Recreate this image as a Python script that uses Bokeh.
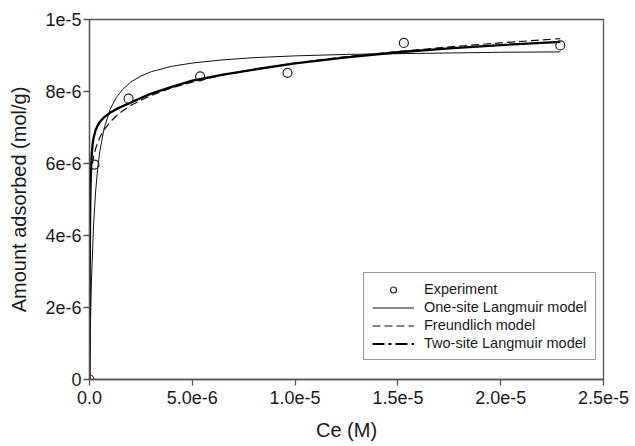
from bokeh.plotting import figure
from bokeh.models import FixedTicker, Legend, LegendItem, Range1d
from bokeh.embed import file_html
from bokeh.resources import INLINE

# values are given in micro-units (1e-6) and converted to M / mol/g below
MICRO = 1e-6

exp_ce = [0.0, 0.24, 1.9, 5.38, 9.63, 15.29, 22.9]
exp_q = [0.0, 5.97, 7.8, 8.42, 8.52, 9.35, 9.28]

one_site_ce = [0.0, 0.02, 0.05, 0.1, 0.2, 0.3, 0.4, 0.5, 0.7, 1.0, 1.3, 1.6, 2.0,
               2.5, 3.0, 4.0, 5.0, 6.5, 8.0, 10.0, 12.5, 15.0, 17.5, 20.0, 22.9]
one_site_q = [0.0, 0.75, 1.67, 2.82, 4.32, 5.24, 5.88, 6.33, 6.95, 7.50, 7.83, 8.05, 8.26,
              8.43, 8.55, 8.70, 8.79, 8.88, 8.94, 8.99, 9.03, 9.05, 9.07, 9.09, 9.10]

freundlich_ce = [0.0, 0.000001, 0.0001, 0.001, 0.01, 0.02, 0.05, 0.1, 0.2, 0.3, 0.5, 0.7,
                 1.0, 1.3, 1.6, 2.0, 2.5, 3.0, 4.0, 5.0, 6.5, 8.0, 10.0, 12.5, 15.0,
                 17.5, 20.0, 22.9]
freundlich_q = [0.0, 2.07, 3.13, 3.85, 4.73, 5.04, 5.47, 5.82, 6.19, 6.42, 6.72, 6.93,
                7.15, 7.32, 7.46, 7.61, 7.76, 7.89, 8.10, 8.26, 8.46, 8.61, 8.79, 8.97,
                9.11, 9.24, 9.35, 9.47]

two_site_ce = [0.0, 0.005, 0.01, 0.02, 0.03, 0.05, 0.07, 0.1, 0.15, 0.2, 0.3, 0.4, 0.5,
               0.7, 1.0, 1.3, 1.6, 2.0, 2.5, 3.0, 4.0, 5.0, 6.5, 8.0, 10.0, 12.5, 15.0,
               17.5, 20.0, 22.9]
two_site_q = [0.0, 1.59, 2.61, 3.84, 4.55, 5.36, 5.80, 6.18, 6.53, 6.72, 6.93, 7.06, 7.15,
              7.28, 7.41, 7.51, 7.59, 7.69, 7.82, 7.94, 8.13, 8.30, 8.47, 8.61, 8.78,
              8.95, 9.09, 9.20, 9.29, 9.38]

x_ticks = [0.0, 5e-6, 1e-5, 1.5e-5, 2e-5, 2.5e-5]
x_tick_labels = ["0.0", "5.0e-6", "1.0e-5", "1.5e-5", "2.0e-5", "2.5e-5"]
y_ticks = [0.0, 2e-6, 4e-6, 6e-6, 8e-6, 1e-5]
y_tick_labels = ["0", "2e-6", "4e-6", "6e-6", "8e-6", "1e-5"]


def scaled(vals):
    return [v * MICRO for v in vals]


FONT = "Liberation Sans"
TEXT = "#1a1a1a"
AXIS = "#555555"

p = figure(width=635, height=446, output_backend="svg", toolbar_location=None,
           x_range=Range1d(0, 2.5e-5), y_range=Range1d(0, 1e-5),
           min_border_left=89, min_border_right=32, min_border_top=19,
           min_border_bottom=67)
p.grid.visible = False
p.background_fill_color = "white"
p.border_fill_color = "white"
p.outline_line_color = AXIS
p.outline_line_width = 1.3

one = p.line(scaled(one_site_ce), scaled(one_site_q), line_color="#111111", line_width=1.0)
fr = p.line(scaled(freundlich_ce), scaled(freundlich_q), line_color="#111111",
            line_width=1.2, line_dash="8 4")
two = p.line(scaled(two_site_ce), scaled(two_site_q), line_color="#000000", line_width=2.3)
# legend-only swatch for the dash-dot style (kept outside the visible ranges)
two_leg = p.line(x=[-2e-6, -1e-6], y=[-2e-6, -2e-6], line_color="#000000",
                 line_width=1.8, line_dash="12 4 3 4")
exp = p.scatter(scaled(exp_ce), scaled(exp_q), marker="circle", size=9,
                fill_alpha=0, line_color="#222222", line_width=1.2)

for ax, ticks, labels in ((p.xaxis[0], x_ticks, x_tick_labels),
                          (p.yaxis[0], y_ticks, y_tick_labels)):
    ax.ticker = FixedTicker(ticks=ticks)
    ax.major_label_overrides = {t: l for t, l in zip(ticks, labels)}
    ax.minor_tick_line_color = None
    ax.major_tick_out = 6
    ax.major_tick_in = 0
    ax.axis_line_color = AXIS
    ax.axis_line_width = 1.3
    ax.major_tick_line_color = AXIS
    ax.major_tick_line_width = 1.3
    ax.major_label_text_font = FONT
    ax.major_label_text_font_size = "18px"
    ax.major_label_text_color = TEXT
    ax.axis_label_text_font = FONT
    ax.axis_label_text_font_size = "20px"
    ax.axis_label_text_font_style = "normal"
    ax.axis_label_text_color = TEXT

p.xaxis[0].axis_label = "Ce (M)"
p.yaxis[0].axis_label = "Amount adsorbed (mol/g)"
p.xaxis[0].major_label_standoff = 5
p.yaxis[0].major_label_standoff = 2
p.xaxis[0].axis_label_standoff = 12
p.yaxis[0].axis_label_standoff = 12

legend = Legend(items=[
    LegendItem(label="Experiment", renderers=[exp]),
    LegendItem(label="One-site Langmuir model", renderers=[one]),
    LegendItem(label="Freundlich model", renderers=[fr]),
    LegendItem(label="Two-site Langmuir model", renderers=[two_leg]),
], location=(274, 19))
legend.border_line_color = "#333333"
legend.border_line_width = 1
legend.background_fill_color = "white"
legend.background_fill_alpha = 1
legend.padding = 8
legend.spacing = 2
legend.margin = 0
legend.label_height = 15
legend.glyph_height = 15
legend.glyph_width = 42
legend.label_standoff = 10
legend.label_text_font = FONT
legend.label_text_font_size = "14.5px"
legend.label_text_color = TEXT
p.add_layout(legend, "center")

open("out.html", "w").write(file_html(p, INLINE))
